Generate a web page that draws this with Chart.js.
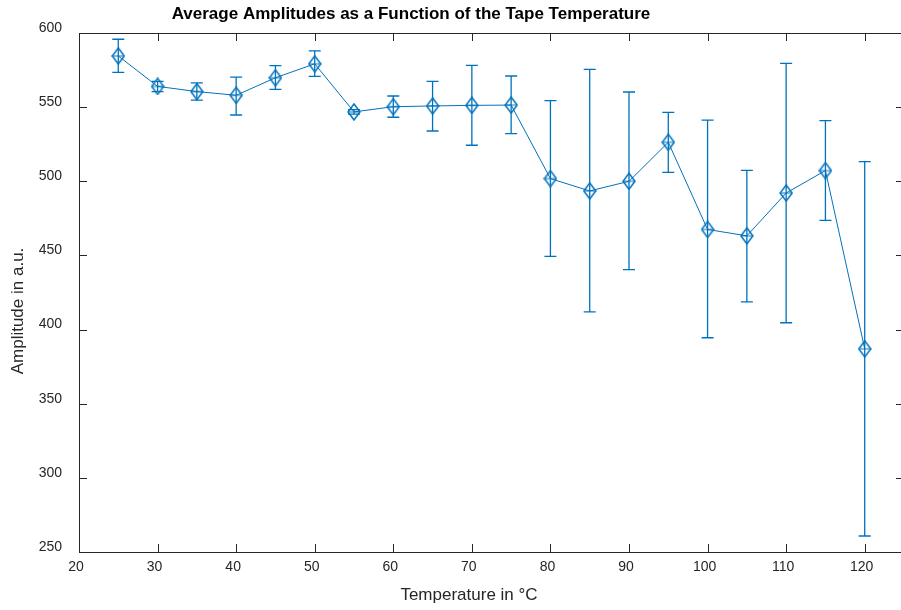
<!DOCTYPE html>
<html>
<head>
<meta charset="utf-8">
<script src="https://cdn.jsdelivr.net/npm/chart.js@4"></script>
<style>
  html, body { margin: 0; background: #fff; overflow: hidden; min-width: 913px; }
  #wrap { width: 913px; height: 610px; }
</style>
</head>
<body>
<div id="wrap"><canvas id="ampChart" width="913" height="610" style="width:913px;height:610px"></canvas></div>
<script>
// temperatures (°C) and mean amplitude with error bar ends (a.u.)
const temps = [25, 30, 35, 40, 45, 50, 55, 60, 65, 70, 75, 80, 85, 90, 95, 100, 105, 110, 115, 120];
const amps = [584.5, 564, 560.5, 558, 569.8, 579.2, 546.8, 550.3, 550.8, 551.2, 551.4, 501.8, 493.5, 500, 526.3, 467.5, 463.2, 492.1, 507.2, 387];
const ampHigh = [595.8, 567.4, 566.3, 570.3, 578, 587.9, 548.3, 557.5, 567.4, 578.2, 571, 554.4, 575.5, 560.2, 546.5, 541.3, 507.4, 579.5, 540.9, 513.2];
const ampLow = [573.5, 560.4, 554.8, 544.7, 562, 570.8, 545.3, 543.2, 533.9, 524.3, 532.1, 449.4, 411.9, 440.4, 506, 394.5, 418.7, 404.6, 473.6, 260.8];
const xTicks = [20, 30, 40, 50, 60, 70, 80, 90, 100, 110, 120];
const yTicks = [250, 300, 350, 400, 450, 500, 550, 600];

const blue = "#0072BD";
const axisColor = "#262626";
const fontFam = "'Liberation Sans', Arial, Helvetica, sans-serif";

// diamond marker with the little cross MATLAB shows inside
function makeDiamond() {
  const c = document.createElement("canvas");
  c.width = 14;
  c.height = 18;
  const g = c.getContext("2d");
  g.strokeStyle = blue;
  g.lineWidth = 1.5;
  g.beginPath();
  g.moveTo(7, 1); g.lineTo(13, 9); g.lineTo(7, 17); g.lineTo(1, 9);
  g.closePath();
  g.stroke();
  g.lineWidth = 1;
  g.beginPath();
  g.moveTo(1, 9); g.lineTo(13, 9);
  g.stroke();
  return c;
}

const boxPlugin = {
  id: "boxAndErrors",
  beforeDatasetsDraw(chart) {
    const { ctx, chartArea: a, scales } = chart;
    ctx.save();
    // axes box with inward ticks
    ctx.strokeStyle = axisColor;
    ctx.lineWidth = 1;
    ctx.strokeRect(a.left + 0.5, a.top + 0.5, a.right - a.left - 1, a.bottom - a.top);
    ctx.beginPath();
    xTicks.forEach(v => {
      const px = Math.round(scales.x.getPixelForValue(v)) + 0.5;
      ctx.moveTo(px, a.bottom); ctx.lineTo(px, a.bottom - 8);
      ctx.moveTo(px, a.top); ctx.lineTo(px, a.top + 8);
    });
    yTicks.forEach(v => {
      const py = Math.round(scales.y.getPixelForValue(v)) + 0.5;
      ctx.moveTo(a.left, py); ctx.lineTo(a.left + 8, py);
      ctx.moveTo(a.right, py); ctx.lineTo(a.right - 8, py);
    });
    ctx.stroke();

    // error bars
    ctx.strokeStyle = blue;
    ctx.lineWidth = 1.3;
    ctx.beginPath();
    temps.forEach((t, i) => {
      const px = scales.x.getPixelForValue(t);
      const top = scales.y.getPixelForValue(ampHigh[i]);
      const bot = scales.y.getPixelForValue(ampLow[i]);
      ctx.moveTo(px, top); ctx.lineTo(px, bot);
      ctx.moveTo(px - 6, top); ctx.lineTo(px + 6, top);
      ctx.moveTo(px - 6, bot); ctx.lineTo(px + 6, bot);
    });
    ctx.stroke();
    ctx.restore();
  },
  afterDraw(chart) {
    const ctx = chart.ctx;
    ctx.save();
    ctx.fillStyle = "#000";
    ctx.textAlign = "center";
    ctx.textBaseline = "middle";
    ctx.font = "bold 17px " + fontFam;
    ctx.fillText("Average Amplitudes as a Function of the Tape Temperature", 411, 14);
    ctx.fillStyle = axisColor;
    ctx.font = "17px " + fontFam;
    ctx.fillText("Temperature in °C", 469, 595);
    ctx.translate(18, 311);
    ctx.rotate(-Math.PI / 2);
    ctx.fillText("Amplitude in a.u.", 0, 0);
    ctx.restore();
  }
};

new Chart(document.getElementById("ampChart"), {
  type: "line",
  data: {
    datasets: [{
      data: temps.map((t, i) => ({ x: t, y: amps[i] })),
      borderColor: blue,
      borderWidth: 1,
      pointStyle: makeDiamond(),
      pointRadius: 8,
      tension: 0,
      fill: false
    }]
  },
  options: {
    responsive: false,
    animation: false,
    devicePixelRatio: 1,
    layout: { padding: { top: 33, right: 0, left: 0, bottom: 0 } },
    plugins: { legend: { display: false }, tooltip: { enabled: false }, title: { display: false } },
    scales: {
      x: {
        type: "linear",
        min: 20,
        max: 125,
        afterBuildTicks: s => { s.ticks = xTicks.map(v => ({ value: v })); },
        afterFit: s => { s.height = 58; s.paddingRight = 0; s.paddingLeft = 0; },
        grid: { display: false, drawTicks: false },
        border: { display: false },
        ticks: { color: axisColor, font: { family: fontFam, size: 14 }, padding: 7, labelOffset: -3, maxRotation: 0, autoSkip: false }
      },
      y: {
        min: 250,
        max: 600,
        afterBuildTicks: s => { s.ticks = yTicks.map(v => ({ value: v })); },
        afterFit: s => { s.width = 79; },
        grid: { display: false, drawTicks: false },
        border: { display: false },
        ticks: { color: axisColor, font: { family: fontFam, size: 14 }, padding: 17, labelOffset: -5, autoSkip: false }
      }
    }
  },
  plugins: [boxPlugin]
});
</script>
</body>
</html>
